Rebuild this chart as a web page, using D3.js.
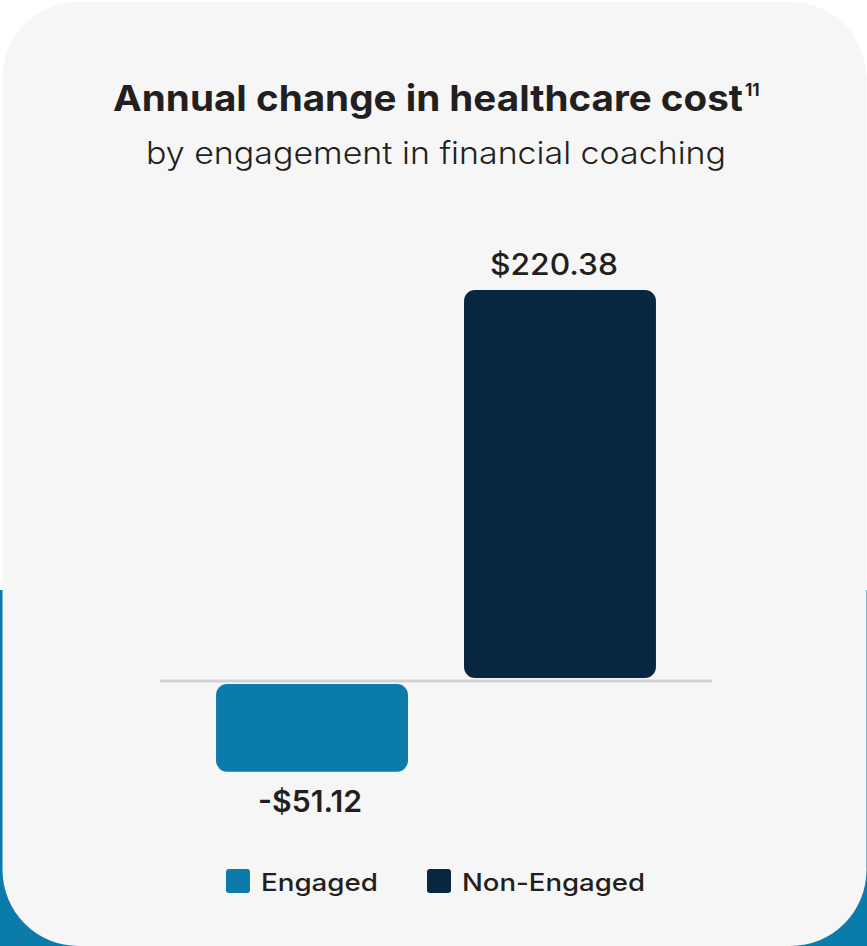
<!DOCTYPE html>
<html>
<head>
<meta charset="utf-8">
<script src="https://cdn.jsdelivr.net/npm/d3@7"></script>
<style>
  html, body { margin: 0; padding: 0; background: #ffffff; }
  svg { display: block; }
</style>
</head>
<body>
<svg id="chart" width="867" height="946"></svg>
<script>
// Annual change in healthcare cost, by engagement in financial coaching
const categories = ["Engaged", "Non-Engaged"];
const values = [-51.12, 220.38];
const valueLabels = ["-$51.12", "$220.38"];
const barColors = ["#0b7baa", "#08263f"];

const title = "Annual change in healthcare cost";
const titleNote = "11";
const subtitle = "by engagement in financial coaching";

const W = 867, H = 946;
const FONT = "Inter, 'Open Sans', sans-serif";
const INK = "#231f20";

const svg = d3.select("#chart");

// page backdrop: white top, blue band lower down
svg.append("rect").attr("x", 0).attr("y", 0).attr("width", W).attr("height", H).attr("fill", "#ffffff");
svg.append("rect").attr("x", 0).attr("y", 590).attr("width", W).attr("height", H - 590).attr("fill", "#0b7baa");

// rounded card
svg.append("rect")
  .attr("x", 2.5).attr("y", 2).attr("width", 864).attr("height", 944)
  .attr("rx", 76).attr("ry", 76)
  .attr("fill", "#f6f6f6");

// title with footnote marker
svg.append("text")
  .attr("x", 113).attr("y", 111)
  .attr("font-family", FONT).attr("font-weight", 700)
  .attr("font-size", 36).attr("fill", INK)
  .attr("textLength", 630).attr("lengthAdjust", "spacingAndGlyphs")
  .text(title);
svg.append("text")
  .attr("x", 745).attr("y", 96)
  .attr("font-family", FONT).attr("font-weight", 700)
  .attr("font-size", 17).attr("fill", INK)
  .text(titleNote);

svg.append("text")
  .attr("x", 146).attr("y", 164)
  .attr("font-family", FONT).attr("font-weight", 300)
  .attr("font-size", 31).attr("fill", INK)
  .attr("textLength", 580).attr("lengthAdjust", "spacingAndGlyphs")
  .text(subtitle);

// scales
const x = d3.scaleBand()
  .domain(categories)
  .range([160, 712])
  .paddingInner(0.226)
  .paddingOuter(0.226);

const y = d3.scaleLinear()
  .domain([0, d3.max(values)])
  .range([681, 290]);

const gap = 3;
const data = categories.map((c, i) => ({ cat: c, value: values[i], label: valueLabels[i], color: barColors[i] }));

// bars, set slightly off the zero line
svg.append("g").selectAll("rect")
  .data(data)
  .join("rect")
  .attr("x", d => x(d.cat))
  .attr("width", x.bandwidth())
  .attr("y", d => d.value >= 0 ? y(d.value) : y(0) + gap)
  .attr("height", d => Math.abs(y(d.value) - y(0)) - gap)
  .attr("rx", 11).attr("ry", 11)
  .attr("fill", d => d.color);

// zero line
svg.append("line")
  .attr("x1", 160).attr("x2", 712)
  .attr("y1", y(0)).attr("y2", y(0))
  .attr("stroke", "#d1d3d5").attr("stroke-width", 3);

// value labels
svg.append("g").selectAll("text")
  .data(data)
  .join("text")
  .attr("x", d => x(d.cat) + x.bandwidth() / 2 + (d.value >= 0 ? -6 : -2))
  .attr("y", d => d.value >= 0 ? y(d.value) - 15 : y(d.value) + 40)
  .attr("text-anchor", "middle")
  .attr("font-family", FONT)
  .attr("font-weight", d => d.value >= 0 ? 500 : 600)
  .attr("font-size", 30)
  .attr("fill", INK)
  .attr("textLength", d => d.value >= 0 ? 128 : 104)
  .attr("lengthAdjust", "spacingAndGlyphs")
  .text(d => d.label);

// legend
const legendX = [226, 427];
const legendTextW = [117, 183];
const lg = svg.append("g").selectAll("g")
  .data(data)
  .join("g")
  .attr("transform", (d, i) => `translate(${legendX[i]},869)`);
lg.append("rect")
  .attr("width", 24).attr("height", 24)
  .attr("rx", 3).attr("ry", 3)
  .attr("fill", d => d.color);
lg.append("text")
  .attr("x", 35).attr("y", 22)
  .attr("font-family", FONT).attr("font-weight", 500)
  .attr("font-size", 24).attr("fill", INK)
  .attr("textLength", (d, i) => legendTextW[i])
  .attr("lengthAdjust", "spacingAndGlyphs")
  .text(d => d.cat);
</script>
</body>
</html>
